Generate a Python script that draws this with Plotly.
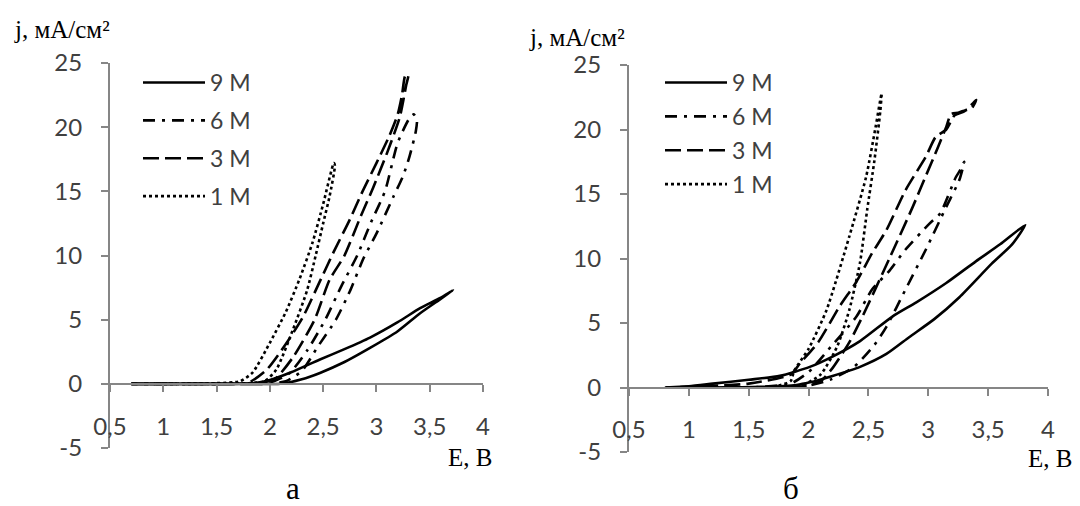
import plotly.graph_objects as go

# ---------------- data ----------------
series_names = ["9 M", "6 M", "3 M", "1 M"]
x_ticks = [0.5, 1, 1.5, 2, 2.5, 3, 3.5, 4]
y_ticks = [-5, 0, 5, 10, 15, 20, 25]
y_tick_labels = ["-5", "0", "5", "10", "15", "20", "25"]

# panel "а"
E_a_9M = [0.70, 1.00, 1.50, 1.90, 2.10, 2.30, 2.47, 2.70, 2.94, 3.20, 3.41, 3.60, 3.72,
          3.60, 3.41, 3.20, 2.94, 2.70, 2.47, 2.20, 2.00, 1.85, 1.50, 1.00, 0.70]
j_a_9M = [0.0, 0.0, 0.0, 0.0, 0.0, 0.35, 0.85, 1.7, 2.8, 4.1, 5.5, 6.6, 7.3,
          6.7, 5.9, 4.8, 3.6, 2.7, 1.9, 0.9, 0.3, 0.05, 0.0, 0.0, 0.0]

E_a_6M = [0.70, 1.00, 1.50, 1.95, 2.15, 2.30, 2.45, 2.62, 2.75, 2.88, 3.00, 3.16, 3.25, 3.31, 3.37,
          3.38, 3.35, 3.31, 3.20, 3.08, 2.95, 2.82, 2.67, 2.52, 2.35, 2.18, 2.00, 1.50, 1.00, 0.70]
j_a_6M = [0.0, 0.0, 0.0, 0.0, 0.2, 1.0, 2.9, 5.0, 7.2, 9.8, 11.7, 14.6, 16.2, 17.7, 19.7,
          20.6, 21.0, 20.7, 18.8, 15.0, 12.6, 10.0, 7.6, 5.0, 2.6, 0.8, 0.1, 0.0, 0.0, 0.0]

E_a_3M = [0.70, 1.00, 1.50, 1.80, 1.97, 2.15, 2.31, 2.47, 2.60, 2.75, 2.87, 3.00, 3.12, 3.20, 3.24, 3.27,
          3.30, 3.28, 3.22, 3.10, 2.97, 2.85, 2.70, 2.56, 2.42, 2.22, 2.05, 1.90, 1.50, 1.00, 0.70]
j_a_3M = [0.0, 0.0, 0.0, 0.1, 1.1, 3.1, 5.2, 8.0, 10.3, 12.8, 15.0, 17.2, 19.3, 21.0, 22.5, 24.0,
          24.1, 23.3, 20.8, 18.0, 15.3, 13.0, 10.0, 8.1, 5.0, 2.1, 0.4, 0.05, 0.0, 0.0, 0.0]

E_a_1M = [0.70, 1.00, 1.50, 1.72, 1.84, 2.00, 2.15, 2.28, 2.40, 2.50, 2.60,
          2.61, 2.56, 2.50, 2.43, 2.35, 2.22, 2.06, 1.95, 1.80, 1.50, 1.00, 0.70]
j_a_1M = [0.0, 0.0, 0.05, 0.2, 0.9, 3.2, 5.6, 8.2, 11.0, 14.0, 17.2,
          17.0, 14.6, 12.5, 10.0, 7.3, 4.3, 1.1, 0.2, 0.05, 0.0, 0.0, 0.0]

# panel "б"
E_b_9M = [0.80, 1.20, 1.60, 1.90, 2.01, 2.20, 2.43, 2.65, 2.84, 3.05, 3.26, 3.53, 3.70, 3.81,
          3.60, 3.40, 3.15, 2.90, 2.70, 2.43, 2.20, 2.01, 1.76, 1.50, 1.20, 1.00, 0.80]
j_b_9M = [0.0, 0.0, 0.05, 0.2, 0.4, 0.9, 1.6, 2.6, 3.9, 5.3, 7.0, 9.6, 11.1, 12.6,
          11.1, 9.8, 8.1, 6.6, 5.5, 3.6, 2.4, 1.6, 0.9, 0.6, 0.3, 0.1, 0.0]

E_b_6M = [0.80, 1.30, 1.70, 1.95, 2.18, 2.38, 2.55, 2.65, 2.81, 2.98, 3.15, 3.26, 3.30,
          3.27, 3.23, 3.10, 3.01, 2.81, 2.68, 2.53, 2.40, 2.19, 2.00, 1.85, 1.50, 1.00, 0.80]
j_b_6M = [0.0, 0.0, 0.0, 0.05, 0.6, 1.6, 3.3, 4.7, 7.6, 10.7, 14.0, 16.1, 17.5,
          16.9, 16.3, 13.5, 12.7, 10.7, 9.1, 7.6, 5.5, 3.2, 1.2, 0.3, 0.0, 0.0, 0.0]

E_b_3M = [0.80, 1.30, 1.70, 1.95, 2.10, 2.20, 2.34, 2.45, 2.68, 2.87, 2.97, 3.08, 3.15, 3.19,
          3.25, 3.31, 3.36, 3.40, 3.37, 3.30, 3.22, 3.15, 3.06, 2.98, 2.81, 2.65, 2.53, 2.40,
          2.26, 2.08, 1.93, 1.85, 1.50, 1.00, 0.80]
j_b_3M = [0.0, 0.0, 0.0, 0.1, 0.5, 1.5, 3.5, 5.5, 10.1, 14.0, 16.2, 18.6, 20.2, 21.2,
          21.3, 21.5, 21.6, 22.3, 22.0, 21.4, 21.1, 20.0, 19.4, 17.9, 15.3, 12.2, 10.4, 8.2,
          6.3, 3.5, 1.9, 1.0, 0.3, 0.05, 0.0]

E_b_1M = [0.80, 1.30, 1.70, 1.85, 1.88, 2.00, 2.15, 2.34, 2.48, 2.56, 2.61,
          2.60, 2.55, 2.49, 2.43, 2.34, 2.24, 2.10, 1.95, 1.70, 1.30, 0.80]
j_b_1M = [0.0, 0.0, 0.05, 0.5, 1.3, 3.0, 6.0, 11.7, 16.3, 20.2, 22.8,
          21.5, 17.6, 13.8, 9.7, 6.0, 3.2, 1.0, 0.2, 0.0, 0.0, 0.0]

panel_a = [(E_a_9M, j_a_9M), (E_a_6M, j_a_6M), (E_a_3M, j_a_3M), (E_a_1M, j_a_1M)]
panel_b = [(E_b_9M, j_b_9M), (E_b_6M, j_b_6M), (E_b_3M, j_b_3M), (E_b_1M, j_b_1M)]

# ---------------- styling ----------------
W, H = 1080, 506
dashes = ["solid", "12px,7px,3px,7px", "16px,6px", "3px,3px"]
TICK_FONT = dict(family="Lato, Calibri, Carlito, sans-serif", size=24, color="#404040")
SERIF = "Liberation Serif, Times New Roman, serif"
AX_COLOR = "#868686"


def px_x(p):
    return p / W


def px_y(p):
    return 1 - p / H


dom_a_x = [px_x(110), px_x(483)]
dom_a_y = [px_y(448), px_y(63)]
dom_b_x = [px_x(629), px_x(1048)]
dom_b_y = [px_y(452), px_y(65)]

fig = go.Figure()

for k, (E, j) in enumerate(panel_a):
    fig.add_trace(go.Scatter(x=E, y=j, mode="lines", name=series_names[k],
                             xaxis="x", yaxis="y", legend="legend",
                             legendgroup="a" + str(k),
                             line=dict(color="black", width=2.6, dash=dashes[k],
                                       shape="spline", smoothing=0.6)))
for k, (E, j) in enumerate(panel_b):
    fig.add_trace(go.Scatter(x=E, y=j, mode="lines", name=series_names[k],
                             xaxis="x2", yaxis="y2", legend="legend2",
                             legendgroup="b" + str(k),
                             line=dict(color="black", width=2.6, dash=dashes[k],
                                       shape="spline", smoothing=0.6)))


def xaxis(dom, ydom):
    zero_pos = ydom[0] + (0 - (-5)) / 30 * (ydom[1] - ydom[0])
    return dict(domain=dom, range=[0.5, 4], anchor="free", position=zero_pos,
                tickmode="array", tickvals=x_ticks,
                ticks="outside", ticklen=7, tickwidth=2, tickcolor=AX_COLOR,
                showline=True, linecolor=AX_COLOR, linewidth=2,
                showgrid=False, zeroline=False, tickfont=TICK_FONT,
                ticklabelstandoff=14, automargin=False)


def yaxis(dom, anchor_x):
    return dict(domain=dom, range=[-5, 25], anchor=anchor_x,
                tickmode="array", tickvals=y_ticks, ticktext=y_tick_labels,
                ticks="outside", ticklen=7, tickwidth=2, tickcolor=AX_COLOR,
                showline=True, linecolor=AX_COLOR, linewidth=2,
                showgrid=False, zeroline=False, tickfont=TICK_FONT,
                ticklabelstandoff=14, automargin=False)


legend_common = dict(font=dict(family="Lato, Calibri, sans-serif", size=23, color="#404040"),
                     bgcolor="rgba(255,255,255,0)", borderwidth=0,
                     traceorder="grouped", itemwidth=62,
                     xanchor="left", yanchor="top")

fig.update_layout(
    template="none",
    width=W, height=H,
    margin=dict(l=0, r=0, t=0, b=0, pad=0, autoexpand=False),
    paper_bgcolor="white", plot_bgcolor="white",
    separators=", ",
    xaxis=xaxis(dom_a_x, dom_a_y), yaxis=yaxis(dom_a_y, "x"),
    xaxis2=xaxis(dom_b_x, dom_b_y), yaxis2=yaxis(dom_b_y, "x2"),
    legend=dict(x=px_x(138), y=px_y(61), tracegroupgap=5, **legend_common),
    legend2=dict(x=px_x(660), y=px_y(61), tracegroupgap=1, **legend_common),
)

annots = [
    dict(text="j, мА/см²", x=px_x(12), y=px_y(30), xanchor="left", yanchor="middle",
         font=dict(family=SERIF, size=25, color="black")),
    dict(text="j, мА/см²", x=px_x(527), y=px_y(37), xanchor="left", yanchor="middle",
         font=dict(family=SERIF, size=25, color="black")),
    dict(text="E, B", x=px_x(470), y=px_y(457), xanchor="center", yanchor="middle",
         font=dict(family=SERIF, size=25, color="black")),
    dict(text="E, B", x=px_x(1050), y=px_y(458), xanchor="center", yanchor="middle",
         font=dict(family=SERIF, size=25, color="black")),
    dict(text="а", x=px_x(293), y=px_y(488), xanchor="center", yanchor="middle",
         font=dict(family=SERIF, size=31, color="black")),
    dict(text="б", x=px_x(791), y=px_y(488), xanchor="center", yanchor="middle",
         font=dict(family=SERIF, size=31, color="black")),
]
for a in annots:
    a.update(xref="paper", yref="paper", showarrow=False)
fig.update_layout(annotations=annots)

fig.write_html("out.html", config={"displayModeBar": False},
               post_script="document.body.style.margin='0px';document.body.style.overflow='hidden';")
